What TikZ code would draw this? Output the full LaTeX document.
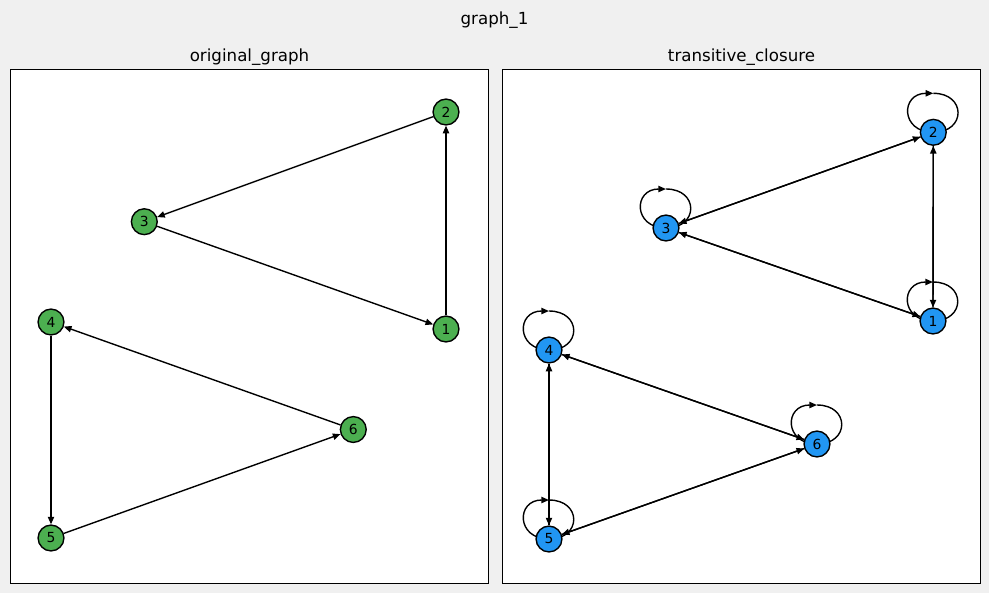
\documentclass[tikz,border=0pt]{standalone}
\usepackage{fontspec}
\setmainfont{DejaVu Sans}
\usetikzlibrary{arrows.meta,calc}
\definecolor{figbg}{RGB}{240,240,240}
\definecolor{nodegreen}{RGB}{76,175,80}
\definecolor{nodeblue}{RGB}{33,150,243}
\pgfdeclarelayer{back}
\pgfdeclarelayer{edges}
\pgfsetlayers{back,edges,main}
% self-loop above a vertex: from the top, round the right side into the
% vertex, then round the left side back to the top
\newcommand\loopabove[1]{%
  \draw[arc] ($(#1)+(0,-39)$) .. controls ($(#1)+(33,-39)$) and ($(#1)+(33,0)$) .. (#1.center)
    .. controls ($(#1)+(-33,0)$) and ($(#1)+(-33,-39)$) .. ($(#1)+(0,-39)$);}
\begin{document}
\begin{tikzpicture}[x=0.72pt,y=-0.72pt,
  vtx/.style={circle, draw, line width=1pt, minimum size=18.6pt, inner sep=0pt,
    font=\fontsize{10}{12}\selectfont},
  gvtx/.style={vtx, fill=nodegreen},
  bvtx/.style={vtx, fill=nodeblue},
  arc/.style={line width=1pt, -{Triangle[length=5.5pt,width=4.5pt]}},
  panel/.style={draw, line width=0.8pt, fill=white},
  ttl/.style={anchor=base, inner sep=0pt, font=\fontsize{12}{14}\selectfont}]

\begin{pgfonlayer}{back}
  \fill[figbg] (0,0) rectangle (989,593);
  \path[panel] (10.5,69.5) rectangle (488.5,583.5);
  \path[panel] (502.5,69.5) rectangle (980.5,583.5);
\end{pgfonlayer}
\useasboundingbox (0,0) rectangle (989,593);

% titles
\node[ttl] (title) at (494.5,24.5) {graph\_1};
\node[ttl] (ltitle) at (249.5,61) {original\_graph};
\node[ttl] (rtitle) at (741.5,61) {transitive\_closure};

% original graph
\node[gvtx] (a1) at (446,329) {1};
\node[gvtx] (a2) at (446,112) {2};
\node[gvtx] (a3) at (144.3,221.7) {3};
\node[gvtx] (a4) at (51,322) {4};
\node[gvtx] (a5) at (51,538) {5};
\node[gvtx] (a6) at (353.3,429.5) {6};

% transitive closure
\node[bvtx] (b1) at (933,321) {1};
\node[bvtx] (b2) at (933.3,132.3) {2};
\node[bvtx] (b3) at (666,228) {3};
\node[bvtx] (b4) at (549,350) {4};
\node[bvtx] (b5) at (549,539) {5};
\node[bvtx] (b6) at (817,444) {6};

\begin{pgfonlayer}{edges}
  \draw[arc] (a1) -- (a2);
  \draw[arc] (a2) -- (a3);
  \draw[arc] (a3) -- (a1);
  \draw[arc] (a4) -- (a5);
  \draw[arc] (a5) -- (a6);
  \draw[arc] (a6) -- (a4);

  \foreach \u/\v in {b1/b2,b2/b1,b2/b3,b3/b2,b3/b1,b1/b3,
                     b4/b5,b5/b4,b5/b6,b6/b5,b6/b4,b4/b6}
    {\draw[arc] (\u) -- (\v);}
  \foreach \n in {b1,b2,b3,b4,b5,b6}
    {\loopabove{\n}}
\end{pgfonlayer}
\end{tikzpicture}
\end{document}
